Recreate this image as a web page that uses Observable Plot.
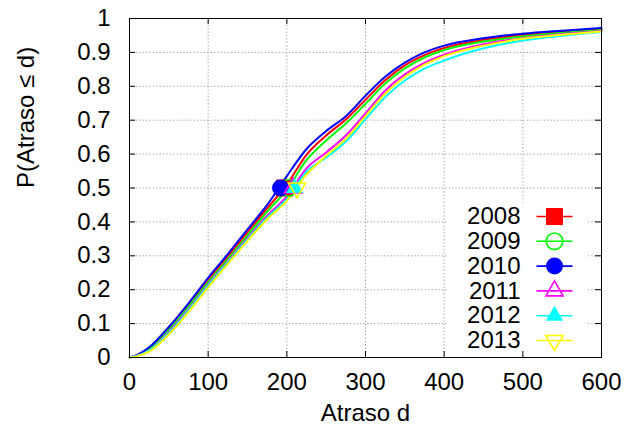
<!DOCTYPE html>
<html>
<head>
<meta charset="utf-8">
<script src="https://cdn.jsdelivr.net/npm/d3@7"></script>
<script src="https://cdn.jsdelivr.net/npm/@observablehq/plot@0.6"></script>
<style>
  html, body { margin: 0; padding: 0; background: white; }
  #chart svg { display: block; }
</style>
</head>
<body>
<div id="chart"></div>
<script>
// ---------- data ----------
const years = ["2008", "2009", "2010", "2011", "2012", "2013"];
const colors = ["#ff0000", "#00ff00", "#0000ff", "#ff00ff", "#00ffff", "#ffff00"];
const delays = [0, 10, 25, 50, 75, 100, 125, 150, 175, 200, 225, 250, 275, 300, 325, 350, 375, 400, 450, 500, 550, 600];
const p2008 = [0, 0.007, 0.027, 0.086, 0.155, 0.228, 0.298, 0.370, 0.440, 0.510, 0.598, 0.655, 0.702, 0.760, 0.818, 0.862, 0.892, 0.913, 0.937, 0.951, 0.960, 0.968];
const p2009 = [0, 0.006, 0.025, 0.082, 0.150, 0.222, 0.290, 0.360, 0.430, 0.495, 0.582, 0.640, 0.690, 0.748, 0.808, 0.853, 0.885, 0.907, 0.932, 0.947, 0.958, 0.966];
const p2010 = [0, 0.008, 0.030, 0.090, 0.160, 0.235, 0.305, 0.378, 0.450, 0.535, 0.615, 0.668, 0.712, 0.772, 0.828, 0.870, 0.900, 0.920, 0.942, 0.955, 0.964, 0.972];
const p2011 = [0, 0.005, 0.020, 0.075, 0.142, 0.215, 0.283, 0.352, 0.418, 0.475, 0.558, 0.605, 0.655, 0.720, 0.787, 0.835, 0.869, 0.893, 0.924, 0.942, 0.954, 0.963];
const p2012 = [0, 0.005, 0.020, 0.072, 0.139, 0.212, 0.280, 0.348, 0.413, 0.468, 0.548, 0.590, 0.637, 0.703, 0.768, 0.817, 0.852, 0.876, 0.912, 0.935, 0.949, 0.960];
const p2013 = [0, 0.004, 0.017, 0.068, 0.134, 0.207, 0.276, 0.344, 0.408, 0.462, 0.540, 0.595, 0.645, 0.712, 0.778, 0.828, 0.864, 0.889, 0.920, 0.940, 0.952, 0.962];
const medians = [197, 202, 192, 208, 210, 213];   // delay d where P = 0.5
const medianP = 0.5;
const xTicks = [0, 100, 200, 300, 400, 500, 600];
const yTicks = [0, 0.1, 0.2, 0.3, 0.4, 0.5, 0.6, 0.7, 0.8, 0.9, 1];
const yTickLabels = ["0", "0.1", "0.2", "0.3", "0.4", "0.5", "0.6", "0.7", "0.8", "0.9", "1"];
const xLabel = "Atraso d";
const yLabel = "P(Atraso \u2264 d)";

// ---------- build table ----------
const series = [p2008, p2009, p2010, p2011, p2012, p2013];
const rows = [];
series.forEach((ps, i) => ps.forEach((p, j) => rows.push({year: years[i], d: delays[j], p})));
const medRows = years.map((y, i) => ({year: y, d: medians[i], p: medianP}));

// ---------- symbols ----------
const triDown = {
  draw(ctx, size) {
    const s3 = Math.sqrt(3);
    const y = -Math.sqrt(size / (s3 * 3));
    ctx.moveTo(0, -y * 2);
    ctx.lineTo(-s3 * y, y);
    ctx.lineTo(s3 * y, y);
    ctx.closePath();
  }
};
const hLine = { draw(ctx) { ctx.moveTo(-18, 0); ctx.lineTo(18, 0); } };
const markerSpec = [
  {symbol: "square", r: 9.6, filled: true},
  {symbol: "circle", r: 8.3, filled: false},
  {symbol: "circle", r: 8.5, filled: true},
  {symbol: "triangle", r: 6.4, filled: false},
  {symbol: "triangle", r: 6.4, filled: true},
  {symbol: triDown, r: 6.4, filled: false}
];

const W = 627, H = 434, mL = 129, mR = 26, mT = 18, mB = 77;
const plotW = W - mL - mR, plotH = H - mT - mB;
const FONT = "Liberation Sans, Arial, Helvetica, sans-serif";
const FS = 24;
const tickLen = 6;

const marks = [];
// grid
marks.push(Plot.gridX(xTicks.slice(1, -1), {stroke: "#9a9a9a", strokeOpacity: 1, strokeWidth: 1, strokeDasharray: "1.2,2.2"}));
marks.push(Plot.gridY(yTicks.slice(1, -1), {stroke: "#9a9a9a", strokeOpacity: 1, strokeWidth: 1, strokeDasharray: "1.2,2.2"}));
// legend background (opaque key)
marks.push(Plot.frame({fill: "white", stroke: "none", insetLeft: 317, insetRight: 14, insetTop: 184}));
// curves
years.forEach((y, i) => {
  marks.push(Plot.line(rows.filter(r => r.year === y), {x: "d", y: "p", stroke: colors[i], strokeWidth: 2, curve: "monotone-x"}));
});
// median markers
years.forEach((y, i) => {
  const m = markerSpec[i];
  marks.push(Plot.dot(medRows.filter(r => r.year === y), {
    x: "d", y: "p", symbol: m.symbol, r: m.r,
    fill: m.filled ? colors[i] : "none", stroke: colors[i], strokeWidth: m.filled ? 0 : 1.6
  }));
});
// frame + inward ticks on all sides
marks.push(Plot.frame({stroke: "black", strokeWidth: 1}));
marks.push(Plot.ruleX(xTicks, {x: d => d, insetTop: plotH - tickLen, stroke: "black"}));
marks.push(Plot.ruleX(xTicks, {x: d => d, insetBottom: plotH - tickLen, stroke: "black"}));
marks.push(Plot.ruleY(yTicks, {y: d => d, insetRight: plotW - tickLen, stroke: "black"}));
marks.push(Plot.ruleY(yTicks, {y: d => d, insetLeft: plotW - tickLen, stroke: "black"}));
// tick labels
marks.push(Plot.text(xTicks, {x: d => d, text: d => String(d), frameAnchor: "bottom", lineAnchor: "middle", dy: 25, fontSize: FS, fill: "black"}));
marks.push(Plot.text(yTicks, {y: d => d, text: (d, i) => yTickLabels[i], frameAnchor: "left", lineAnchor: "middle", dx: -19, textAnchor: "end", fontSize: FS, fill: "black"}));
// axis labels
marks.push(Plot.text([xLabel], {text: d => d, frameAnchor: "bottom", lineAnchor: "middle", dy: 56, fontSize: FS, fill: "black"}));
marks.push(Plot.text([yLabel], {text: d => d, frameAnchor: "left", lineAnchor: "middle", dx: -103, rotate: -90, fontSize: FS, fill: "black"}));
// legend
years.forEach((y, i) => {
  const dy = -17 - 24.8 * (years.length - 1 - i);
  const m = markerSpec[i];
  marks.push(Plot.text([y], {text: d => d, frameAnchor: "bottom-right", lineAnchor: "middle", dx: -81, dy, textAnchor: "end", fontSize: FS, fill: "black"}));
  marks.push(Plot.dot([y], {frameAnchor: "bottom-right", dx: -47, dy, symbol: hLine, stroke: colors[i], strokeWidth: 1.6, fill: "none"}));
  marks.push(Plot.dot([y], {frameAnchor: "bottom-right", dx: -47, dy, symbol: m.symbol, r: m.r,
    fill: m.filled ? colors[i] : "none", stroke: colors[i], strokeWidth: m.filled ? 0 : 1.6}));
});

const chart = Plot.plot({
  width: W, height: H,
  marginLeft: mL, marginRight: mR, marginTop: mT, marginBottom: mB,
  x: {domain: [0, 600], axis: null},
  y: {domain: [0, 1], axis: null},
  style: {fontFamily: FONT, fontSize: FS + "px", background: "white", color: "black"},
  marks
});
document.getElementById("chart").appendChild(chart);
</script>
</body>
</html>
